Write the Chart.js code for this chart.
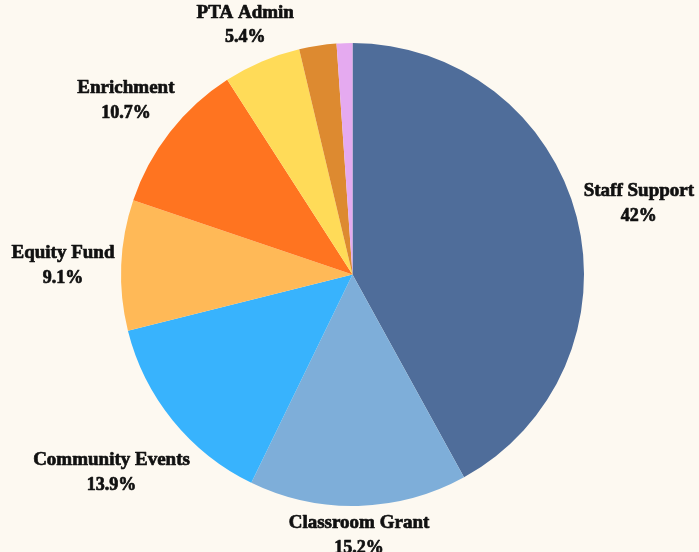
<!DOCTYPE html>
<html>
<head>
<meta charset="utf-8">
<script src="https://cdn.jsdelivr.net/npm/chart.js@4/dist/chart.umd.min.js"></script>
<style>
  html, body { margin: 0; padding: 0; background: #fdf9f1; }
  #wrap { width: 699px; height: 552px; }
</style>
</head>
<body>
<div id="wrap"><canvas id="c" width="699" height="552"></canvas></div>
<script>
const categories = ["Staff Support", "Classroom Grant", "Community Events", "Equity Fund", "Enrichment", "PTA Admin", "Supplies", "Miscellaneous"];
const values = [42, 15.2, 13.9, 9.1, 10.7, 5.4, 2.6, 1.1];
const percentLabels = ["42%", "15.2%", "13.9%", "9.1%", "10.7%", "5.4%", "2.6%", "1.1%"];
const showLabel = [true, true, true, true, true, true, false, false];
const colors = ["#4f6d9a", "#7eaed9", "#38b3fd", "#ffb957", "#ff7420", "#ffdb58", "#dd8a30", "#e5aaf0"];

const FONT_NAME = 'bold 19px "Liberation Serif", serif';
const FONT_PCT = 'bold 18px "Liberation Serif", serif';
const LINE_H = 25;
const GAP = 6;
const SHIFT = 3;

const outsideLabels = {
  id: 'outsideLabels',
  afterDatasetsDraw(chart) {
    const ctx = chart.ctx;
    const meta = chart.getDatasetMeta(0);
    meta.data.forEach((arc, i) => {
      if (!showLabel[i]) return;
      const p = arc.getProps(['x', 'y', 'startAngle', 'endAngle', 'outerRadius'], true);
      const mid = (p.startAngle + p.endAngle) / 2;
      const ux = Math.cos(mid), uy = Math.sin(mid);
      ctx.save();
      ctx.font = FONT_NAME;
      const w1 = ctx.measureText(categories[i]).width;
      ctx.font = FONT_PCT;
      const w2 = ctx.measureText(percentLabels[i]).width;
      const w = Math.max(w1, w2);
      const h = LINE_H * 2 - 12;
      const ext = (w / 2) * Math.abs(ux) + (h / 2) * Math.abs(uy);
      const d = p.outerRadius + GAP + ext;
      const cx = p.x + ux * d;
      const cy = p.y + uy * d + SHIFT;
      ctx.fillStyle = '#111111';
      ctx.strokeStyle = '#111111';
      ctx.lineWidth = 0.7;
      ctx.lineJoin = 'round';
      ctx.textAlign = 'center';
      ctx.textBaseline = 'middle';
      ctx.font = FONT_NAME;
      ctx.fillText(categories[i], cx, cy - LINE_H / 2);
      ctx.strokeText(categories[i], cx, cy - LINE_H / 2);
      ctx.font = FONT_PCT;
      ctx.fillText(percentLabels[i], cx, cy + LINE_H / 2);
      ctx.strokeText(percentLabels[i], cx, cy + LINE_H / 2);
      ctx.restore();
    });
  }
};

new Chart(document.getElementById('c'), {
  type: 'pie',
  data: {
    labels: categories,
    datasets: [{
      data: values,
      backgroundColor: colors,
      borderWidth: 0
    }]
  },
  options: {
    responsive: false,
    animation: false,
    layout: { padding: { top: 43, bottom: 46, left: 121, right: 115 } },
    plugins: {
      legend: { display: false },
      tooltip: { enabled: false }
    }
  },
  plugins: [outsideLabels]
});
</script>
</body>
</html>
